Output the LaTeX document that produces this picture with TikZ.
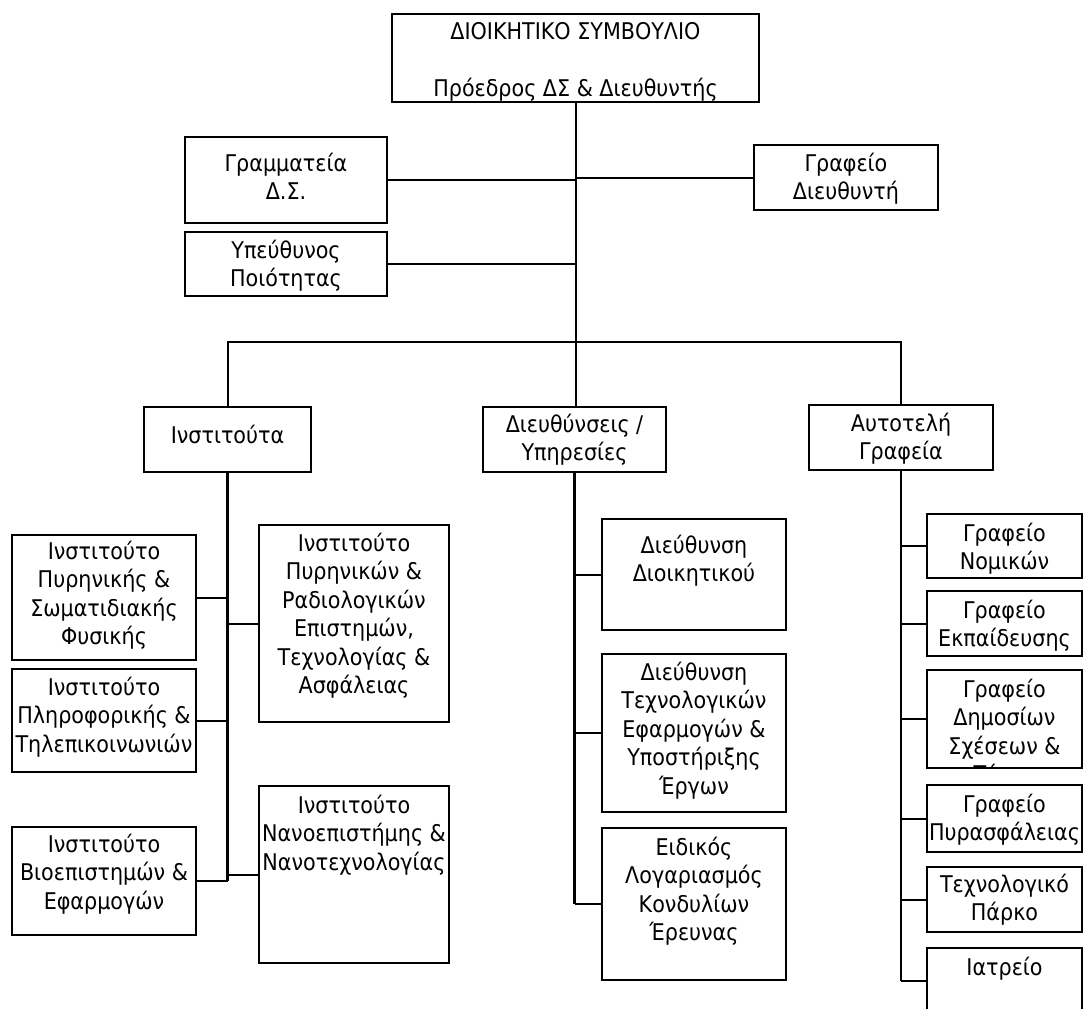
\documentclass[tikz,border=0pt]{standalone}
\usepackage{fontspec}
\setmainfont{DejaVu Sans Condensed}
\newcommand\lns[1]{\begin{tabular}[t]{@{}c@{}}#1\end{tabular}}
\tikzset{
  boxst/.style={draw=black, line width=1.5pt, fill=white, inner sep=0pt, outer sep=0pt},
  txtst/.style={inner sep=0pt, outer sep=0pt, anchor=base, font=\fontsize{17.25pt}{21.375pt}\selectfont},
  conn/.style={draw=black, line width=1.5pt},
  trunk/.style={draw=black, line width=2.2pt}
}
\newcommand\bx[5]{\node[boxst, minimum width={(#4-#2)*0.75pt}, minimum height={(#5-#3)*0.75pt}] (#1) at ({(#2+#4)/2},{(#3+#5)/2}) {};}
\newcommand\tx[3]{\begin{scope}\clip (#1.south west) rectangle (#1.north east); \node[txtst] (#1t) at (#1.center |- 0,#2) {\lns{#3}};\end{scope}}
\begin{document}
\begin{tikzpicture}[x=0.75pt,y=-0.75pt]
\useasboundingbox (0,0) rectangle (1084,1008);
\fill[white] (0,0) rectangle (1084,1008);
\clip (0,0) rectangle (1084,1008);
% boxes
\bx{top}{392}{14}{759}{102}
\bx{gram}{185}{137}{387}{223}
\bx{ypeu}{185}{232}{387}{296}
\bx{gdir}{754}{145}{938}{210}
\bx{inst}{144}{407}{311}{472}
\bx{diey}{483}{407}{666}{472}
\bx{aut}{809}{405}{993}{470}
\bx{pyrf}{12}{535}{196}{660}
\bx{plir}{12}{669}{196}{772}
\bx{bio}{12}{827}{196}{935}
\bx{pyrn}{259}{525}{449}{722}
\bx{nano}{259}{786}{449}{963}
\bx{ddio}{602}{519}{786}{630}
\bx{dtex}{602}{654}{786}{812}
\bx{eid}{602}{828}{786}{980}
\bx{nom}{927}{514}{1082}{578}
\bx{ekp}{927}{591}{1082}{656}
\bx{dim}{927}{670}{1082}{768}
\bx{pyra}{927}{785}{1082}{852}
\bx{park}{927}{867}{1082}{932}
\bx{iat}{927}{948}{1082}{1014}
% texts
\tx{top}{39}{ΔΙΟΙΚΗΤΙΚΟ ΣΥΜΒΟΥΛΙΟ\\ \\Πρόεδρος ΔΣ \& Διευθυντής}
\tx{gram}{171}{Γραμματεία\\Δ.Σ.}
\tx{ypeu}{258}{Υπεύθυνος\\Ποιότητας}
\tx{gdir}{171}{Γραφείο\\Διευθυντή}
\tx{inst}{443}{Ινστιτούτα}
\tx{diey}{432}{Διευθύνσεις /\\Υπηρεσίες}
\tx{aut}{431}{Αυτοτελή\\Γραφεία}
\tx{pyrf}{559}{Ινστιτούτο\\Πυρηνικής \&\\Σωματιδιακής\\Φυσικής}
\tx{plir}{695}{Ινστιτούτο\\Πληροφορικής \&\\Τηλεπικοινωνιών}
\tx{bio}{852}{Ινστιτούτο\\Βιοεπιστημών \&\\Εφαρμογών}
\tx{pyrn}{551}{Ινστιτούτο\\Πυρηνικών \&\\Ραδιολογικών\\Επιστημών,\\Τεχνολογίας \&\\Ασφάλειας}
\tx{nano}{813}{Ινστιτούτο\\Νανοεπιστήμης \&\\Νανοτεχνολογίας}
\tx{ddio}{553}{Διεύθυνση\\Διοικητικού}
\tx{dtex}{680}{Διεύθυνση\\Τεχνολογικών\\Εφαρμογών \&\\Υποστήριξης\\Έργων}
\tx{eid}{855}{Ειδικός\\Λογαριασμός\\Κονδυλίων\\Έρευνας}
\tx{nom}{541}{Γραφείο\\Νομικών}
\tx{ekp}{618}{Γραφείο\\Εκπαίδευσης}
\tx{dim}{697}{Γραφείο\\Δημοσίων\\Σχέσεων \&\\Τύπου}
\tx{pyra}{812}{Γραφείο\\Πυρασφάλειας}
\tx{park}{892}{Τεχνολογικό\\Πάρκο}
\tx{iat}{975}{Ιατρείο}
% connectors, top level
\coordinate (barmid) at (top.south |- 0,342);
\draw[conn] (top.south) -- (barmid) -- (top.south |- diey.north);
\draw[conn] (gram.east) -- (gram.east -| top.south);
\draw[conn] (ypeu.east) -- (ypeu.east -| top.south);
\draw[conn] (gdir.west) -- (gdir.west -| top.south);
\draw[conn] (inst.north) |- (barmid) -| (aut.north);
% column trunks
\draw[trunk] (inst.south) -- (inst.south |- bio.east);
\draw[trunk] (diey.south) -- (diey.south |- eid.west);
\draw[trunk] (aut.south) -- (aut.south |- iat.west);
% left column
\draw[conn] (pyrf.east) -- (pyrf.east -| inst.south);
\draw[conn] (plir.east) -- (plir.east -| inst.south);
\draw[conn] (bio.east) -- (bio.east -| inst.south);
\draw[conn] (pyrn.west) -- (pyrn.west -| inst.south);
\draw[conn] (nano.west) -- (nano.west -| inst.south);
% middle column
\draw[conn] (ddio.west) -- (ddio.west -| diey.south);
\draw[conn] (dtex.west) -- (dtex.west -| diey.south);
\draw[conn] (eid.west) -- (eid.west -| diey.south);
% right column
\draw[conn] (nom.west) -- (nom.west -| aut.south);
\draw[conn] (ekp.west) -- (ekp.west -| aut.south);
\draw[conn] (dim.west) -- (dim.west -| aut.south);
\draw[conn] (pyra.west) -- (pyra.west -| aut.south);
\draw[conn] (park.west) -- (park.west -| aut.south);
\draw[conn] (iat.west) -- (iat.west -| aut.south);
\end{tikzpicture}
\end{document}
